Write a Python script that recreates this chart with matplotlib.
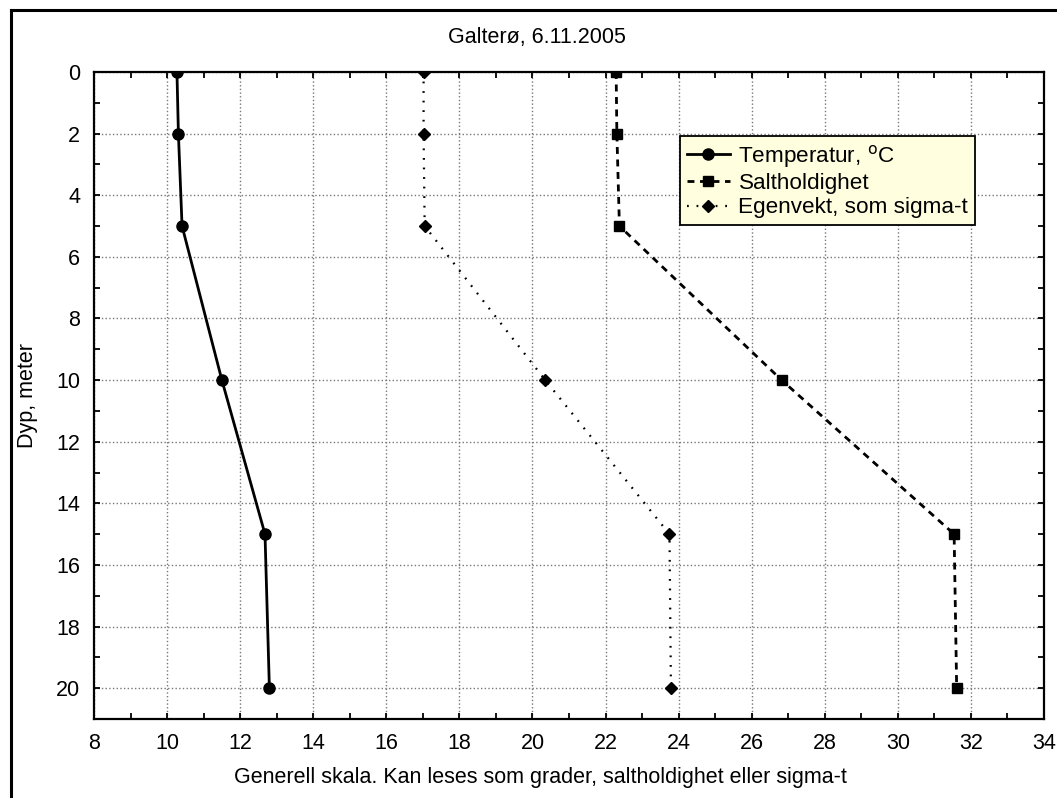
import matplotlib
matplotlib.use("Agg")
import matplotlib.pyplot as plt
from matplotlib.lines import Line2D
from matplotlib.ticker import MultipleLocator

plt.rcParams['font.family'] = ['Liberation Sans', 'DejaVu Sans']

# depth profile, Galterø 6.11.2005
depth = [0, 2, 5, 10, 15, 20]
temperatur = [10.27, 10.31, 10.41, 11.5, 12.68, 12.8]
saltholdighet = [22.29, 22.31, 22.38, 26.82, 31.54, 31.61]
sigma_t = [17.02, 17.02, 17.05, 20.35, 23.75, 23.79]

fs = 15.5
fig = plt.figure(figsize=(10.57, 7.98), dpi=100)
ax = fig.add_axes([94/1057, 1 - 719/798, (1044 - 94)/1057, (719 - 72)/798])

ax.plot(temperatur, depth, color='black', lw=2, ls='-', marker='o', ms=8,
        label='Temperatur, $^{\\mathrm{o}}$C')
ax.plot(saltholdighet, depth, color='black', lw=2, ls=(0, (2.5, 2)), marker='s', ms=7.5,
        label='Saltholdighet')
ax.plot(sigma_t, depth, color='black', lw=1.6, ls=(0, (0.8, 3.5)), marker='D', ms=6.5,
        label='Egenvekt, som sigma-t')

ax.set_xlim(8, 34)
ax.set_ylim(21, 0)
ax.xaxis.set_major_locator(MultipleLocator(2))
ax.xaxis.set_minor_locator(MultipleLocator(1))
ax.yaxis.set_major_locator(MultipleLocator(2))
ax.yaxis.set_minor_locator(MultipleLocator(1))
ax.tick_params(which='both', direction='in', top=True, right=True, length=4, width=1.3,
               labelsize=fs, pad=10)
ax.grid(True, which='major', color='#777777', ls=':', lw=1)
for s in ax.spines.values():
    s.set_linewidth(1.6)

leg = ax.legend(loc='upper left', bbox_to_anchor=((680 - 94)/950, (719 - 136)/647),
                fontsize=16.2, frameon=True, fancybox=False, handlelength=1.9,
                borderpad=0.3, labelspacing=0.15, handletextpad=0.4, borderaxespad=0)
leg.get_frame().set_facecolor('#ffffe0')
leg.get_frame().set_edgecolor('black')
leg.get_frame().set_linewidth(1.3)
leg.get_frame().set_alpha(1)

fig.text(537/1057, 1 - 38/798, 'Galterø, 6.11.2005', ha='center', va='center', fontsize=fs)
fig.text(540/1057, 1 - 778/798,
         'Generell skala. Kan leses som grader, saltholdighet eller sigma-t',
         ha='center', va='center', fontsize=fs)
fig.text(27/1057, 1 - 395/798, 'Dyp, meter', rotation=90, ha='center', va='center', fontsize=fs)

# outer frame (left and top edge visible)
fig.add_artist(Line2D([11/1057, 11/1057], [0, 1 - 10/798], color='black', lw=2.2,
                      transform=fig.transFigure))
fig.add_artist(Line2D([11/1057, 1], [1 - 10/798, 1 - 10/798], color='black', lw=2.2,
                      transform=fig.transFigure))

fig.savefig('out.png', dpi=100)
